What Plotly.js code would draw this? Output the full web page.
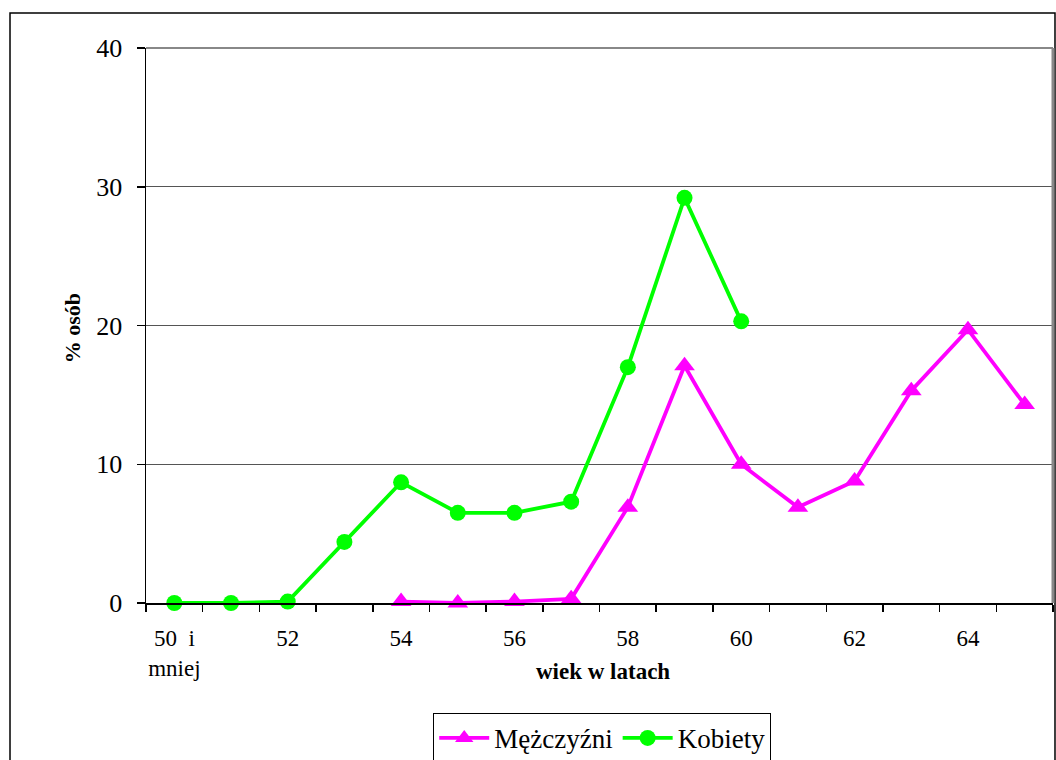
<!DOCTYPE html>
<html><head><meta charset="utf-8">
<script src="https://cdn.plot.ly/plotly-3.0.1.min.js"></script>
<style>html,body{margin:0;padding:0;background:#fff;}#chart{width:1056px;height:760px;}</style>
</head><body><div id="chart"></div>
<script>
const categories = ["50 i mniej","51","52","53","54","55","56","57","58","59","60","61","62","63","64","65"];
const tickLabels = ["50  i<br>mniej","","52","","54","","56","","58","","60","","62","","64",""];
const mezczyzni = [null,null,null,null,0.1,0.0,0.1,0.3,6.9,17.1,10.0,6.9,8.8,15.3,19.7,14.3];
const kobiety = [0.0,0.0,0.1,4.4,8.7,6.5,6.5,7.3,17.0,29.2,20.3,null,null,null,null,null];

const serif = "'Liberation Serif', 'Times New Roman', serif";
const traces = [
  {x: categories, y: mezczyzni, name: "Mężczyźni", type: "scatter", mode: "lines+markers",
   line: {color: "#FF00FF", width: 3.8}, marker: {symbol: "triangle-up", size: 18, color: "#FF00FF"}, cliponaxis: false},
  {x: categories, y: kobiety, name: "Kobiety", type: "scatter", mode: "lines+markers",
   line: {color: "#00FF00", width: 3.8}, marker: {symbol: "circle", size: 16, color: "#00FF00"}, cliponaxis: false}
];
const layout = {
  width: 1056, height: 760,
  margin: {l: 146, r: 3, t: 48, b: 157, autoexpand: false},
  paper_bgcolor: "#fff", plot_bgcolor: "#fff",
  font: {family: serif, color: "#000"},
  showlegend: true,
  legend: {orientation: "h", x: 0.503, xanchor: "center", y: -0.198, yanchor: "top",
    bordercolor: "#000", borderwidth: 1, font: {family: serif, size: 27, color: "#000"},
    itemwidth: 50, tracegroupgap: 0},
  xaxis: {type: "category", categoryorder: "array", categoryarray: categories,
    range: [-0.5, 15.5], tickvals: categories, ticktext: tickLabels, tickson: "boundaries",
    ticks: "outside", ticklen: 7, tickcolor: "#000", tickwidth: 1.5,
    showline: true, linecolor: "#000", linewidth: 1.5, showgrid: false, zeroline: false,
    automargin: false, ticklabelstandoff: 14,
    tickfont: {family: serif, size: 23, color: "#000"}, tickangle: 0},
  yaxis: {range: [0, 40], tickvals: [0,10,20,30,40], ticks: "outside", ticklen: 8,
    tickcolor: "#000", tickwidth: 1.5, showline: true, linecolor: "#000", linewidth: 1.5,
    showgrid: true, gridcolor: "#555", gridwidth: 1.2, zeroline: false, automargin: false,
    ticklabelstandoff: 9, tickfont: {family: serif, size: 26, color: "#000"}},
  shapes: [
    {type: "line", xref: "paper", yref: "paper", x0: 0, x1: 1, y0: 1, y1: 1, line: {color: "#888", width: 2}},
    {type: "line", xref: "paper", yref: "paper", x0: 1, x1: 1, y0: 0, y1: 1, line: {color: "#888", width: 3}},
    {type: "rect", xref: "paper", yref: "paper", x0: -0.14994, x1: 1.0022, y0: -0.35, y1: 1.0631,
     line: {color: "#000", width: 1.5}, layer: "below"}
  ],
  annotations: [
    {text: "<b>wiek w latach</b>", xref: "paper", yref: "paper", x: 0.5035, y: -0.124,
     xanchor: "center", yanchor: "middle", showarrow: false, font: {family: serif, size: 23, color: "#000"}},
    {text: "<b>% osób</b>", xref: "paper", yref: "paper", x: -0.081, y: 0.494, textangle: -90,
     xanchor: "center", yanchor: "middle", showarrow: false, font: {family: serif, size: 22, color: "#000"}}
  ]
};
Plotly.newPlot("chart", traces, layout, {displayModeBar: false, staticPlot: true});
</script></body></html>
